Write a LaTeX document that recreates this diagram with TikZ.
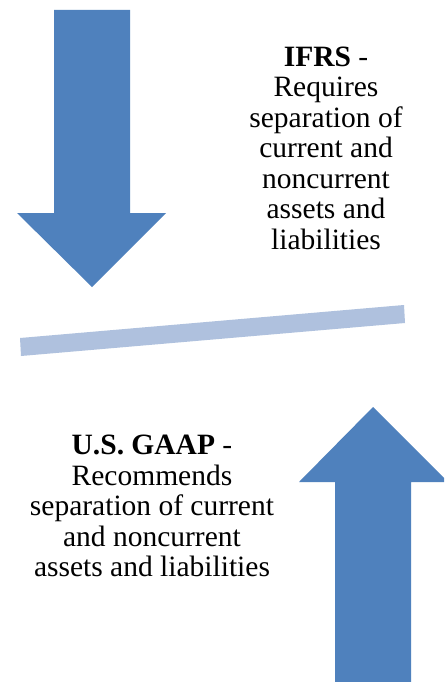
\documentclass[tikz,border=0pt]{standalone}
\usepackage{fontspec}
\setmainfont{Liberation Serif}
\definecolor{arrowblue}{HTML}{4F81BD}
\definecolor{barblue}{HTML}{AFC1DE}
\tikzset{
  bigarrow/.style={fill=arrowblue, draw=none},
  lbl/.style={align=center, inner sep=0pt, font=\fontsize{29.5}{30.5}\selectfont, text=black}
}
\begin{document}
\begin{tikzpicture}[x=1pt,y=-1pt]
\clip (0,0) rectangle (444,682);
\fill[white] (0,0) rectangle (444,682);
% top arrow (pointing down)
\path[bigarrow] (54,10) -- (130,10) -- (130,213) -- (166,213) -- (92,287) -- (17,213) -- (54,213) -- cycle;
% tilted bar
\path[fill=barblue] (20,338) -- (404,305) -- (405,323) -- (21,356) -- cycle;
% bottom arrow (pointing up)
\path[bigarrow] (335,690) -- (335,482) -- (299,482) -- (373,407) -- (448,482) -- (411,482) -- (411,690) -- cycle;
% labels
\node[lbl] (ifrs) at (326,148) {\textbf{IFRS} -\\Requires\\separation of\\current and\\noncurrent\\assets and\\liabilities};
\node[lbl] (gaap) at (152,506) {\textbf{U.S. GAAP} -\\Recommends\\separation of current\\and noncurrent\\assets and liabilities};
\end{tikzpicture}
\end{document}
